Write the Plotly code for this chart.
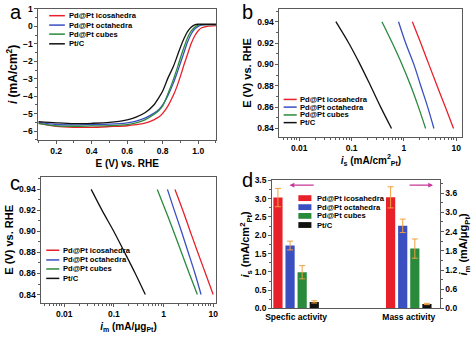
import plotly.graph_objects as go

W, H = 474, 339

series_names = ["Pd@Pt icosahedra", "Pd@Pt octahedra", "Pd@Pt cubes", "Pt/C"]
colors = ["#E8202A", "#3A4FC0", "#2A8A3C", "#111111"]

# ---- panel a: polarization curves ----
E_lsv = [0.1, 0.2, 0.3, 0.4, 0.5, 0.6, 0.65, 0.7, 0.75, 0.78, 0.8, 0.83, 0.86,
         0.88, 0.9, 0.92, 0.94, 0.96, 0.98, 1.0, 1.02, 1.05, 1.1]
i_ico = [-5.55, -5.72, -5.78, -5.78, -5.74, -5.69, -5.63, -5.54, -5.35, -5.18, -4.98,
         -4.55, -3.95, -3.45, -2.85, -2.2, -1.6, -1.0, -0.55, -0.25, -0.08, 0.0, 0.04]
i_oct = [-5.5, -5.62, -5.64, -5.62, -5.6, -5.52, -5.42, -5.25, -4.98, -4.75, -4.5,
         -3.95, -3.25, -2.7, -2.1, -1.5, -0.9, -0.45, -0.15, 0.0, 0.07, 0.1, 0.1]
i_cub = [-5.55, -5.7, -5.72, -5.7, -5.68, -5.62, -5.52, -5.35, -5.05, -4.8, -4.55,
         -3.85, -3.05, -2.45, -1.8, -1.2, -0.65, -0.28, -0.05, 0.07, 0.1, 0.1, 0.1]
i_ptc = [-5.45, -5.52, -5.57, -5.55, -5.5, -5.35, -5.2, -4.95, -4.5, -4.05, -3.7,
         -2.95, -2.3, -1.75, -1.2, -0.7, -0.3, -0.05, 0.08, 0.12, 0.12, 0.12, 0.12]
lsv = [i_ico, i_oct, i_cub, i_ptc]

# ---- panels b, c: Tafel plots ----
E_tafel = [0.94, 0.92, 0.90, 0.88, 0.86, 0.84]
is_ico = [1.45, 2.1, 3.0, 4.3, 6.2, 8.9]
is_oct = [0.79, 1.08, 1.55, 2.1, 2.85, 3.75]
is_cub = [0.38, 0.6, 0.92, 1.35, 1.9, 2.6]
is_ptc = [0.05, 0.088, 0.145, 0.23, 0.36, 0.58]
spec_curves = [is_ico, is_oct, is_cub, is_ptc]

im_ico = [1.7, 2.45, 3.45, 4.9, 7.0, 10.0]
im_oct = [1.2, 1.65, 2.3, 3.15, 4.3, 5.7]
im_cub = [0.75, 1.1, 1.6, 2.3, 3.3, 4.8]
im_ptc = [0.035, 0.058, 0.1, 0.165, 0.27, 0.43]
mass_curves = [im_ico, im_oct, im_cub, im_ptc]

log_ticks = [0.01, 0.1, 1, 10]
log_tick_text = ["0.01", "0.1", "1", "10"]

# ---- panel d: bar chart ----
categories = ["Specfic activity", "Mass activity"]
spec_vals = [3.03, 1.72, 0.99, 0.18]
spec_err = [0.25, 0.12, 0.18, 0.03]
mass_vals = [3.47, 2.58, 1.87, 0.14]
mass_err = [0.33, 0.21, 0.30, 0.02]

FONT = "Liberation Sans, Arial, sans-serif"
AXCOL = "#5a5a5a"
ERRCOL = "#F0A040"


def xd(l, r):
    return [l / W, r / W]


def yd(t, b):
    return [1 - b / H, 1 - t / H]


def px(x):
    return x / W


def py(y):
    return 1 - y / H


fig = go.Figure()

for name, col, ys in zip(series_names, colors, lsv):
    fig.add_trace(go.Scatter(x=E_lsv, y=ys, mode="lines", name=name,
                             line=dict(color=col, width=1.3, shape="spline", smoothing=0.8),
                             xaxis="x", yaxis="y", showlegend=False))
for name, col, xs in zip(series_names, colors, spec_curves):
    fig.add_trace(go.Scatter(x=xs, y=E_tafel, mode="lines", name=name,
                             line=dict(color=col, width=1.3, shape="spline"),
                             xaxis="x2", yaxis="y2", showlegend=False))
for name, col, xs in zip(series_names, colors, mass_curves):
    fig.add_trace(go.Scatter(x=xs, y=E_tafel, mode="lines", name=name,
                             line=dict(color=col, width=1.3, shape="spline"),
                             xaxis="x3", yaxis="y3", showlegend=False))
for k, (name, col) in enumerate(zip(series_names, colors)):
    fig.add_trace(go.Bar(x=[categories[0]], y=[spec_vals[k]], name=name,
                         marker=dict(color=col, line=dict(width=0)),
                         error_y=dict(type="data", array=[spec_err[k]], color=ERRCOL,
                                      thickness=1, width=3),
                         xaxis="x4", yaxis="y4", showlegend=False))
for k, (name, col) in enumerate(zip(series_names, colors)):
    fig.add_trace(go.Bar(x=[categories[1]], y=[mass_vals[k]], name=name,
                         marker=dict(color=col, line=dict(width=0)),
                         error_y=dict(type="data", array=[mass_err[k]], color=ERRCOL,
                                      thickness=1, width=3),
                         xaxis="x4", yaxis="y5", showlegend=False))

tickfont = dict(family=FONT, size=8.5, color="black", weight="bold")
base = dict(showline=True, linecolor=AXCOL, linewidth=1, mirror=True, ticks="outside",
            ticklen=3, tickcolor=AXCOL, tickwidth=1, tickfont=tickfont, showgrid=False,
            zeroline=False)
minor_log = [k * 10.0 ** e for e in range(-3, 2) for k in range(2, 10)]

lay = dict(
    width=W, height=H, margin=dict(l=0, r=0, t=0, b=0),
    paper_bgcolor="white", plot_bgcolor="white",
    font=dict(family=FONT, color="black", size=9, weight="bold"),
    showlegend=False, bargap=0.57, bargroupgap=0.24, barmode="group",
    xaxis=dict(base, domain=xd(32, 213), anchor="y", range=[0.1, 1.1], dtick=0.2, tick0=0.2,
               tickformat=".1f",
               minor=dict(dtick=0.1, ticks="outside", ticklen=2, tickcolor=AXCOL),
               title=dict(text="E (V) vs. RHE", font=dict(size=10), standoff=4)),
    yaxis=dict(base, domain=yd(4, 139), anchor="x", range=[-6.5, 1], dtick=1,
               minor=dict(dtick=0.5, ticks="outside", ticklen=2, tickcolor=AXCOL),
               title=dict(text="<i>i</i> (mA/cm<sup>2</sup>)", font=dict(size=12), standoff=2)),
    xaxis2=dict(base, domain=xd(277.7, 464.3), anchor="y2", type="log", range=[-2.38, 1.12],
                tickvals=log_ticks, ticktext=log_tick_text,
                minor=dict(tickvals=minor_log, ticks="outside", ticklen=2, tickcolor=AXCOL),
                title=dict(text="<i>i</i><sub>s</sub> (mA/cm<sup>2</sup><sub>Pt</sub>)",
                           font=dict(size=10), standoff=4)),
    yaxis2=dict(base, domain=yd(4, 136), anchor="x2", range=[0.832, 0.952], dtick=0.02,
                tick0=0.84, tickformat=".2f",
                minor=dict(dtick=0.01, ticks="outside", ticklen=2, tickcolor=AXCOL),
                title=dict(text="E (V) vs. RHE", font=dict(size=11), standoff=3)),
    xaxis3=dict(base, domain=xd(35, 212.7), anchor="y3", type="log", range=[-2.46, 1.05],
                tickvals=log_ticks, ticktext=log_tick_text,
                minor=dict(tickvals=minor_log, ticks="outside", ticklen=2, tickcolor=AXCOL),
                title=dict(text="<i>i</i><sub>m</sub> (mA/μg<sub>Pt</sub>)",
                           font=dict(size=10), standoff=4)),
    yaxis3=dict(base, domain=yd(177, 307), anchor="x3", range=[0.832, 0.952], dtick=0.02,
                tick0=0.84, tickformat=".2f",
                minor=dict(dtick=0.01, ticks="outside", ticklen=2, tickcolor=AXCOL),
                title=dict(text="E (V) vs. RHE", font=dict(size=11), standoff=3)),
    xaxis4=dict(base, domain=xd(270.3, 441), anchor="y4", type="category",
                categoryorder="array", categoryarray=categories, range=[-0.2125, 1.274],
                ticks="", ticklen=0),
    yaxis4=dict(base, domain=yd(180.7, 312.7), anchor="x4", range=[0, 3.5], dtick=0.5,
                tickformat=".1f", mirror=False,
                minor=dict(dtick=0.25, ticks="outside", ticklen=2, tickcolor=AXCOL),
                title=dict(text="<i>i</i><sub>s</sub> (mA/cm<sup>2</sup><sub>Pt</sub>)",
                           font=dict(size=11), standoff=2)),
    yaxis5=dict(base, anchor="x4", overlaying="y4", side="right", range=[0, 4.0], dtick=0.6,
                tickformat=".1f", mirror=False,
                minor=dict(dtick=0.3, ticks="outside", ticklen=2, tickcolor=AXCOL),
                title=dict(text="<i>i</i><sub>m</sub> (mA/μg<sub>Pt</sub>)",
                           font=dict(size=11), standoff=2)),
)
fig.update_layout(**lay)

shapes = []
annotations = []

# panel labels
for lab, x, y in [("a", 1, 7), ("b", 238, 7), ("c", 1, 183), ("d", 237, 180)]:
    annotations.append(dict(text=lab, x=px(x), y=py(y), xref="paper", yref="paper",
                            xanchor="left", yanchor="middle", showarrow=False,
                            font=dict(family=FONT, size=20, color="black", weight="normal")))

# manual line legends for panels a, b, c
legend_specs = [
    (43, 59, 61, [11, 20.7, 30, 40]),
    (282, 295.3, 297, [97.3, 105.2, 113.3, 121.2]),
    (40, 53.3, 55, [252.7, 262.7, 272, 281.7]),
]
for x0, x1, xt, rows in legend_specs:
    for name, col, yy in zip(series_names, colors, rows):
        shapes.append(dict(type="line", xref="paper", yref="paper", x0=px(x0), x1=px(x1),
                           y0=py(yy), y1=py(yy), line=dict(color=col, width=1.5)))
        annotations.append(dict(text=name, x=px(xt), y=py(yy), xref="paper", yref="paper",
                                xanchor="left", yanchor="middle", showarrow=False,
                                font=dict(size=7.6, weight="bold")))

# legend for panel d (boxes)
for name, col, yy in zip(series_names, colors, [199, 208.3, 217.3, 226.7]):
    shapes.append(dict(type="rect", xref="paper", yref="paper", x0=px(297), x1=px(310.3),
                       y0=py(yy + 3), y1=py(yy - 3), line=dict(width=0), fillcolor=col))
    annotations.append(dict(text=name, x=px(314.3), y=py(yy), xref="paper", yref="paper",
                            xanchor="left", yanchor="middle", showarrow=False,
                            font=dict(size=7.6, weight="bold")))

# axis-direction arrows in panel d
ARROWCOL = "#C8379A"
annotations.append(dict(x=px(288), y=py(185.7), xref="paper", yref="paper", ax=25.7, ay=0,
                        showarrow=True, arrowhead=2, arrowsize=0.8, arrowwidth=1.2,
                        arrowcolor=ARROWCOL, text=""))
annotations.append(dict(x=px(434.3), y=py(185.7), xref="paper", yref="paper", ax=-25, ay=0,
                        showarrow=True, arrowhead=2, arrowsize=0.8, arrowwidth=1.2,
                        arrowcolor=ARROWCOL, text=""))

fig.update_layout(shapes=shapes, annotations=annotations)
fig.write_html("out.html")
